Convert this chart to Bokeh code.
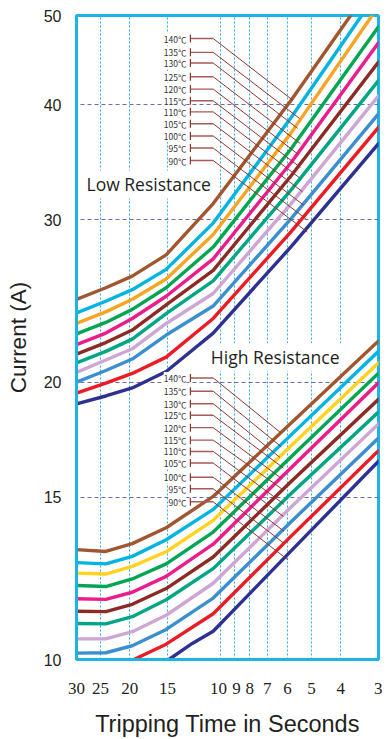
import numpy as np
from bokeh.plotting import figure
from bokeh.models import Range1d, FixedTicker, PrintfTickFormatter, Label
from bokeh.embed import file_html
from bokeh.resources import INLINE

# ---------------- data ----------------
temps = ["90", "95", "100", "105", "110", "115", "120", "125", "130", "135", "140"]
low_colors = ["#2e3192", "#ed1c24", "#3b8fd0", "#cda6d6", "#00a584", "#8c2b24",
              "#ec1c8c", "#00a651", "#f6a623", "#00b4e2", "#a0562e"]
high_colors = ["#2e3192", "#ed1c24", "#3b8fd0", "#cda6d6", "#00a584", "#8c2b24",
               "#ec1c8c", "#00a651", "#ffd320", "#00b4e2", "#a0562e"]

# Low resistance: current (A) at these tripping times (s), then an end point
low_times = [30, 23.99, 19.61, 15.14, 10.58, 5.84]
low_90 = [18.94, 19.32, 19.71, 20.54, 22.61, 28.06]
low_95 = [19.46, 19.95, 20.44, 21.29, 23.45, 29.13]
low_100 = [20.00, 20.59, 21.19, 22.50, 24.19, 30.09]
low_105 = [20.49, 21.14, 21.74, 23.16, 24.96, 31.25]
low_110 = [20.99, 21.60, 22.27, 23.74, 25.76, 32.34]
low_115 = [21.45, 22.08, 22.78, 24.26, 26.45, 33.50]
low_120 = [21.97, 22.61, 23.45, 24.79, 27.22, 34.63]
low_125 = [22.56, 23.22, 23.99, 25.32, 28.03, 35.84]
low_130 = [23.16, 23.84, 24.60, 25.88, 28.92, 37.29]
low_135 = [23.78, 24.48, 25.20, 26.51, 29.76, 38.75]
low_140 = [24.60, 25.32, 26.07, 27.49, 31.25, 40.45]
low_end_time = [3, 3, 3, 3, 3, 3, 3, 3, 3.15, 3.41, 3.71]
low_end_current = [36.3, 37.8, 39.1, 40.9, 42.5, 44.5, 46.7, 48.6, 50, 50, 50]

# High resistance
high_times = [30, 23.99, 19.61, 15.14, 10.58, 5.84, 3]
high_90_time = [14.82, 12.41, 10.58, 5.84, 3]
high_90 = [10.0, 10.41, 10.73, 13.12, 16.41]
high_95_time = [19.37, 15.14, 10.58, 5.84, 3]
high_95 = [10.0, 10.39, 11.21, 13.61, 16.85]
high_100 = [10.16, 10.17, 10.35, 10.78, 11.66, 14.11, 17.39]
high_105 = [10.53, 10.53, 10.72, 11.17, 12.10, 14.64, 18.02]
high_110 = [10.94, 10.93, 11.13, 11.61, 12.55, 15.14, 18.56]
high_115 = [11.28, 11.27, 11.48, 11.94, 12.92, 15.60, 19.16]
high_120 = [11.64, 11.62, 11.83, 12.31, 13.34, 16.15, 19.97]
high_125 = [12.03, 12.00, 12.23, 12.70, 13.75, 16.60, 20.45]
high_130 = [12.41, 12.38, 12.62, 13.09, 14.16, 17.06, 20.99]
high_135 = [12.74, 12.70, 12.94, 13.49, 14.55, 17.53, 21.60]
high_140 = [13.16, 13.10, 13.36, 13.90, 15.03, 18.06, 22.17]

# Leader lines for the temperature labels (90 -> 140)
leader_bar_time = 12.59
leader_knee_time = 10.58
low_label_current = [34.8, 35.9, 37.0, 38.15, 39.3, 40.4, 41.6, 42.9, 44.4, 45.6, 47.2]
low_leader_end_time = [5.16, 5.23, 5.32, 5.35, 5.48, 5.44, 5.56, 5.44, 5.56, 5.48, 5.78]
low_leader_end_current = [29.10, 30.10, 31.14, 32.18, 33.33, 34.20, 35.39, 36.29, 37.71, 38.66, 40.48]
high_label_current = [14.83, 15.32, 15.77, 16.34, 16.82, 17.30, 17.85, 18.41, 18.95, 19.55, 20.21]
high_leader_end_time = [5.99, 6.17, 6.17, 6.20, 6.17, 6.17, 6.30, 6.20, 6.36, 6.30, 6.33]
high_leader_end_current = [12.83, 13.37, 13.78, 14.30, 14.74, 15.26, 15.73, 16.14, 16.57, 17.02, 17.63]

x_ticks = [30, 25, 20, 15, 10, 9, 8, 7, 6, 5, 4, 3]
y_ticks = [10, 15, 20, 30, 40, 50]

# ---------------- figure ----------------
FRAME = "#1cb4e2"
p = figure(width=382, height=739, x_axis_type="log", y_axis_type="log",
           x_range=Range1d(30, 3), y_range=Range1d(10, 50),
           output_backend="svg", toolbar_location=None,
           min_border_left=76, min_border_right=4, min_border_top=15, min_border_bottom=77)
p.background_fill_color = "white"
p.border_fill_color = "white"
p.outline_line_color = FRAME
p.outline_line_width = 3

p.xaxis.ticker = FixedTicker(ticks=x_ticks)
p.yaxis.ticker = FixedTicker(ticks=y_ticks)
p.xaxis.formatter = PrintfTickFormatter(format="%d")
p.yaxis.formatter = PrintfTickFormatter(format="%d")
# the 10 and 9 ticks sit close together on the log scale: nudge them apart
p.xaxis.major_label_overrides = {10: "10\u00a0", 9: "\u00a09"}
for ax in (p.xaxis[0], p.yaxis[0]):
    ax.axis_line_color = FRAME
    ax.axis_line_width = 3
    ax.major_tick_line_color = None
    ax.minor_tick_line_color = None
    ax.major_label_text_color = "#231f20"
    ax.axis_label_text_font = "Liberation Sans"
    ax.axis_label_text_font_style = "normal"
    ax.axis_label_text_color = "#231f20"
p.xaxis.major_label_text_font = "Liberation Sans Narrow"
p.xaxis.major_label_text_font_size = "17px"
p.yaxis.major_label_text_font = "Liberation Sans"
p.yaxis.major_label_text_font_size = "16px"
p.xaxis.axis_label = "Tripping Time in Seconds"
p.yaxis.axis_label = "Current (A)"
p.xaxis.axis_label_text_font_size = "23.5px"
p.yaxis.axis_label_text_font_size = "22.5px"
p.xaxis.major_label_standoff = 13
p.xaxis.axis_label_standoff = 10
p.yaxis.major_label_standoff = 9
p.yaxis.axis_label_standoff = 10

p.xgrid.grid_line_color = "#29abe2"
p.xgrid.grid_line_dash = "2 2"
p.xgrid.grid_line_width = 1
p.ygrid.grid_line_color = "#6a6aae"
p.ygrid.grid_line_dash = "4 3"
p.ygrid.grid_line_width = 1.2

# ---------------- curves ----------------
low_series = [low_90, low_95, low_100, low_105, low_110, low_115,
              low_120, low_125, low_130, low_135, low_140]
for i, vals in enumerate(low_series):
    xs = low_times + [low_end_time[i]]
    ys = vals + [low_end_current[i]]
    p.line(xs, ys, line_color=low_colors[i], line_width=3.4, line_join="round", line_cap="round")

high_series = [(high_90_time, high_90), (high_95_time, high_95),
               (high_times, high_100), (high_times, high_105), (high_times, high_110),
               (high_times, high_115), (high_times, high_120), (high_times, high_125),
               (high_times, high_130), (high_times, high_135), (high_times, high_140)]
for i, (xs, ys) in enumerate(high_series):
    p.line(xs, ys, line_color=high_colors[i], line_width=3.4, line_join="round", line_cap="round")

# ---------------- leaders + labels ----------------
LEAD = "#8e3530"
def leaders(label_cur, end_t, end_c):
    n = len(label_cur)
    p.multi_line([[leader_bar_time, leader_knee_time] for _ in range(n)],
                 [[c, c] for c in label_cur], line_color="#a85a55", line_width=1.4)
    p.multi_line([[leader_knee_time, end_t[i]] for i in range(n)],
                 [[label_cur[i], end_c[i]] for i in range(n)], line_color=LEAD, line_width=1)
    p.scatter([leader_bar_time] * n, label_cur, marker="dash", angle=np.pi / 2, size=8,
              line_color=LEAD, line_width=1.2)
    for i in range(n):
        lab = Label(x=leader_bar_time, y=label_cur[i], x_offset=-4, text=temps[i] + "℃",
                    text_align="right", text_baseline="middle", text_font="Noto Sans CJK SC",
                    text_font_size="8.5px", text_color="#333333",
                    background_fill_color="white")
        p.add_layout(lab)

leaders(low_label_current, low_leader_end_time, low_leader_end_current)
leaders(high_label_current, high_leader_end_time, high_leader_end_current)

for txt, tx, cy in [("Low Resistance", 28.22, 32.78), ("High Resistance", 10.94, 21.29)]:
    lab = Label(x=tx, y=cy, text=txt, text_align="left", text_baseline="middle",
                text_font="Open Sans", text_font_size="17.5px", text_color="#231f20",
                background_fill_color="white")
    try:
        lab.padding = 2
    except Exception:
        pass
    p.add_layout(lab)

open("out.html", "w").write(file_html(p, INLINE))
